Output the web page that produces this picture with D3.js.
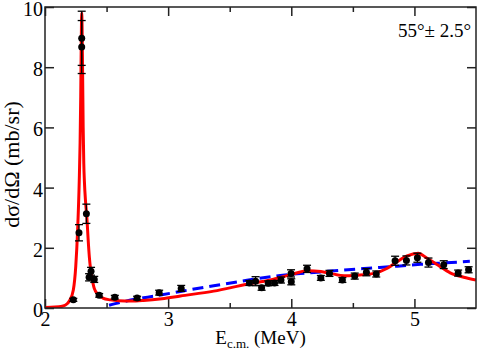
<!DOCTYPE html>
<html>
<head>
<meta charset="utf-8">
<script src="https://cdnjs.cloudflare.com/ajax/libs/d3/7.8.5/d3.min.js"></script>
<style>
  body { margin: 0; background: #fff; }
  text { font-family: "Liberation Serif", "Times New Roman", serif; fill: #000; }
</style>
</head>
<body>
<div id="chart-area"></div>
<script>
// measured points (E c.m. in MeV, cross section in mb/sr, error)
const dataE = [2.23, 2.276, 2.298, 2.298, 2.336, 2.358, 2.374, 2.40, 2.44, 2.567, 2.748, 2.927, 3.106,
  3.66, 3.71, 3.759, 3.813, 3.864, 3.916, 3.998, 4.0, 4.128, 4.24, 4.31, 4.415, 4.515, 4.61, 4.69,
  4.843, 4.935, 5.024, 5.114, 5.238, 5.355, 5.44]
const dataY = [0.27, 2.50, 8.96, 8.67, 3.13, 1.02, 1.22, 0.95, 0.42, 0.36, 0.33, 0.51, 0.65,
  0.83, 0.89, 0.67, 0.82, 0.83, 0.93, 1.15, 0.87, 1.30, 1.00, 1.15, 0.93, 1.06, 1.19, 1.13,
  1.57, 1.58, 1.67, 1.51, 1.44, 1.16, 1.27]
const dataErr = [0.05, 0.27, 0.90, 0.88, 0.32, 0.12, 0.13, 0.10, 0.06, 0.06, 0.06, 0.08, 0.10,
  0.08, 0.15, 0.08, 0.08, 0.08, 0.10, 0.12, 0.10, 0.12, 0.08, 0.10, 0.08, 0.10, 0.12, 0.10,
  0.15, 0.15, 0.15, 0.15, 0.13, 0.10, 0.10]

// red solid curve
const redE = [2.00, 2.08, 2.14, 2.18, 2.20, 2.23, 2.25, 2.265, 2.278, 2.285, 2.29, 2.295, 2.298,
  2.305, 2.31, 2.315, 2.32, 2.33, 2.34, 2.35, 2.36, 2.37, 2.38, 2.40, 2.43, 2.47, 2.53, 2.60, 2.70,
  2.80, 2.95, 3.10, 3.37, 3.64, 3.83, 3.99, 4.13, 4.24, 4.32, 4.43, 4.53, 4.67, 4.78, 4.86, 4.94,
  5.03, 5.10, 5.19, 5.29, 5.40, 5.50]
const redY = [0.02, 0.03, 0.06, 0.14, 0.25, 0.6, 1.4, 2.6, 4.2, 5.5, 7.0, 9.0, 9.8,
  8.0, 6.0, 4.8, 4.2, 3.5, 3.0, 2.3, 1.7, 1.3, 1.04, 0.65, 0.45, 0.33, 0.27, 0.24, 0.23,
  0.25, 0.31, 0.40, 0.56, 0.79, 0.93, 1.10, 1.24, 1.21, 1.15, 1.07, 1.09, 1.15, 1.32, 1.54, 1.73,
  1.82, 1.66, 1.43, 1.17, 1.02, 0.93]

// blue dashed curve
const blueE = [2.52, 2.65, 2.80, 2.95, 3.10, 3.37, 3.64, 3.91, 4.24, 4.59, 4.86, 5.05, 5.25, 5.45]
const blueY = [0.09, 0.22, 0.34, 0.44, 0.55, 0.74, 0.92, 1.08, 1.20, 1.31, 1.39, 1.45, 1.50, 1.55]

const xMajor = [2, 3, 4, 5]
const xMinor = [2.5, 3.5, 4.5]
const yMajor = [0, 2, 4, 6, 8, 10]

const MARGIN = { LEFT: 45, RIGHT: 2, TOP: 7, BOTTOM: 43 }
const WIDTH = 478 - MARGIN.LEFT - MARGIN.RIGHT
const HEIGHT = 351 - MARGIN.TOP - MARGIN.BOTTOM

const svg = d3.select("#chart-area").append("svg")
  .attr("width", 478)
  .attr("height", 351)

const g = svg.append("g")
  .attr("transform", `translate(${MARGIN.LEFT}, ${MARGIN.TOP})`)

const x = d3.scaleLinear().domain([2, 5.5]).range([0, WIDTH])
const y = d3.scaleLinear().domain([0, 10]).range([HEIGHT, 0])

g.append("clipPath").attr("id", "clip")
  .append("rect").attr("width", WIDTH).attr("height", HEIGHT)

// axes, ticks pointing inward
const axisStyle = sel => {
  sel.select(".domain").remove()
  sel.selectAll(".tick line").attr("stroke", "#222").attr("stroke-width", 1.5)
  sel.selectAll(".tick text").style("font-family", "'Liberation Serif', serif").style("font-size", "20px").attr("fill", "#000")
}

g.append("g").attr("transform", `translate(0, ${HEIGHT})`)
  .call(d3.axisBottom(x).tickValues(xMajor).tickSize(-9).tickPadding(4).tickFormat(d3.format("d")))
  .call(axisStyle)
g.append("g").attr("transform", `translate(0, ${HEIGHT})`)
  .call(d3.axisBottom(x).tickValues(xMinor).tickSize(-5).tickFormat(""))
  .call(axisStyle)
g.append("g")
  .call(d3.axisTop(x).tickValues(xMajor).tickSize(-9).tickFormat(""))
  .call(axisStyle)
g.append("g")
  .call(d3.axisTop(x).tickValues(xMinor).tickSize(-5).tickFormat(""))
  .call(axisStyle)
g.append("g")
  .call(d3.axisLeft(y).tickValues(yMajor).tickSize(-9).tickPadding(2).tickFormat(d3.format("d")))
  .call(axisStyle)
  .call(sel => sel.selectAll(".tick text").attr("dy", "0.42em"))
g.append("g").attr("transform", `translate(${WIDTH}, 0)`)
  .call(d3.axisRight(y).tickValues(yMajor).tickSize(-9).tickFormat(""))
  .call(axisStyle)

// curves
const line = d3.line()
  .x(d => x(d[0]))
  .y(d => y(d[1]))
  .curve(d3.curveMonotoneX)

g.append("path")
  .attr("clip-path", "url(#clip)")
  .attr("fill", "none")
  .attr("stroke", "#0000ff")
  .attr("stroke-width", 3)
  .attr("stroke-dasharray", "11,6")
  .attr("d", line(d3.zip(blueE, blueY)))

g.append("path")
  .attr("clip-path", "url(#clip)")
  .attr("fill", "none")
  .attr("stroke", "#ff0000")
  .attr("stroke-width", 3)
  .attr("d", line(d3.zip(redE, redY)))

// data with error bars
const pts = g.append("g").selectAll("g")
  .data(d3.zip(dataE, dataY, dataErr))
  .join("g")
  .attr("stroke", "#000")
  .attr("stroke-width", 1.3)

pts.append("line")
  .attr("x1", d => x(d[0])).attr("x2", d => x(d[0]))
  .attr("y1", d => y(d[1] - d[2])).attr("y2", d => y(d[1] + d[2]))
pts.append("line")
  .attr("x1", d => x(d[0]) - 4).attr("x2", d => x(d[0]) + 4)
  .attr("y1", d => y(d[1] + d[2])).attr("y2", d => y(d[1] + d[2]))
pts.append("line")
  .attr("x1", d => x(d[0]) - 4).attr("x2", d => x(d[0]) + 4)
  .attr("y1", d => y(d[1] - d[2])).attr("y2", d => y(d[1] - d[2]))
pts.append("circle")
  .attr("cx", d => x(d[0])).attr("cy", d => y(d[1]))
  .attr("r", 3.5)
  .attr("fill", "#000")
  .attr("stroke", "none")

// frame
g.append("rect")
  .attr("width", WIDTH).attr("height", HEIGHT)
  .attr("fill", "none")
  .attr("stroke", "#222")
  .attr("stroke-width", 1.5)

// labels
const xLabel = g.append("text")
  .attr("x", WIDTH / 2)
  .attr("y", HEIGHT + 36)
  .attr("text-anchor", "middle")
  .style("font-size", "19px")
xLabel.append("tspan").text("E")
xLabel.append("tspan").attr("dy", 4).style("font-size", "13px").text("c.m.")
xLabel.append("tspan").attr("dy", -4).text(" (MeV)")

g.append("text")
  .attr("transform", `translate(${-26}, ${HEIGHT / 2 + 7}) rotate(-90)`)
  .attr("text-anchor", "middle")
  .style("font-size", "22px")
  .text("dσ/dΩ (mb/sr)")

g.append("text")
  .attr("x", WIDTH - 5)
  .attr("y", 30)
  .attr("text-anchor", "end")
  .style("font-size", "19px")
  .text("55°± 2.5°")
</script>
</body>
</html>
